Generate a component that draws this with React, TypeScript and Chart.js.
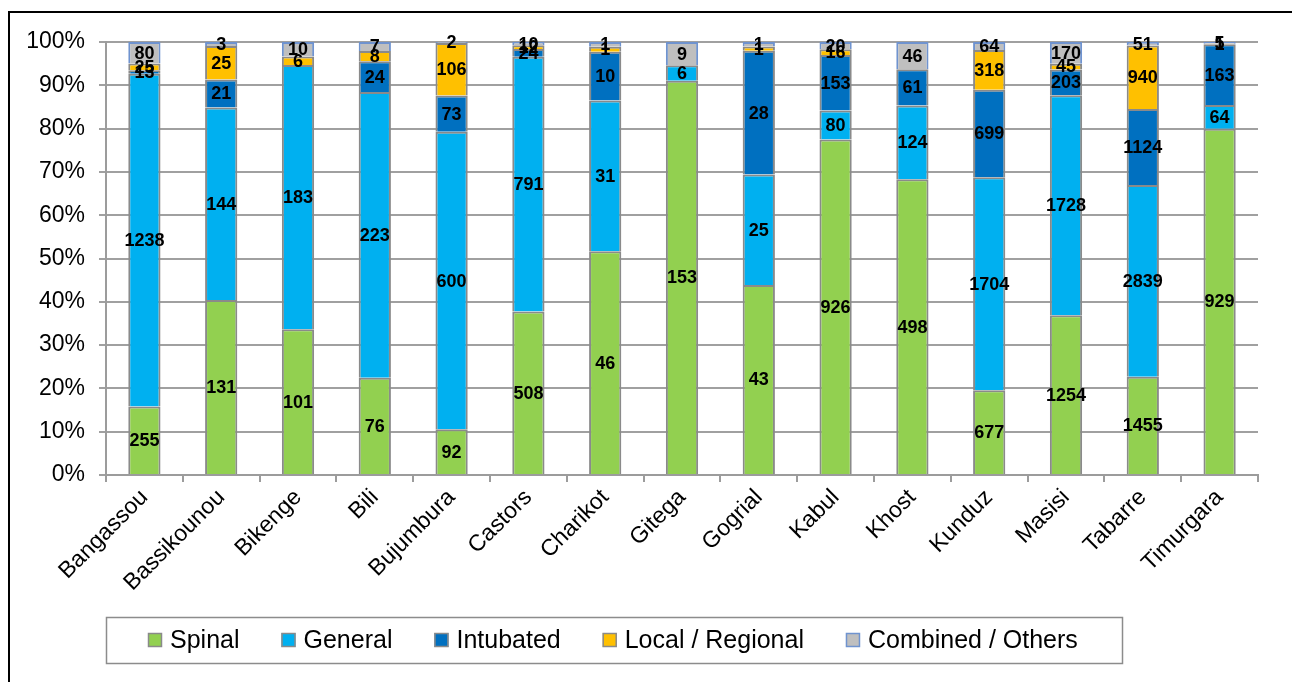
import React, { useEffect, useRef } from "react";
import { Chart, registerables } from "chart.js";

Chart.register(...registerables);

const FONT = "'Liberation Sans', Arial, sans-serif";

// Anaesthesia type per site (number of procedures)
const sites = [
  "Bangassou", "Bassikounou", "Bikenge", "Bili", "Bujumbura", "Castors", "Charikot",
  "Gitega", "Gogrial", "Kabul", "Khost", "Kunduz", "Masisi", "Tabarre", "Timurgara",
];
const spinal = [255, 131, 101, 76, 92, 508, 46, 153, 43, 926, 498, 677, 1254, 1455, 929];
const general = [1238, 144, 183, 223, 600, 791, 31, 6, 25, 80, 124, 1704, 1728, 2839, 64];
const intubated = [13, 21, 0, 24, 73, 24, 10, 0, 28, 153, 61, 699, 203, 1124, 163];
const localRegional = [25, 25, 6, 8, 106, 12, 1, 0, 1, 16, 0, 318, 45, 940, 1];
const combinedOthers = [80, 3, 10, 7, 2, 10, 1, 9, 1, 20, 46, 64, 170, 51, 5];

const seriesNames = ["Spinal", "General", "Intubated", "Local / Regional", "Combined / Others"];
const seriesValues = [spinal, general, intubated, localRegional, combinedOthers];
const seriesFill = ["#92D050", "#00B0F0", "#0070C0", "#FFC000", "#BFBFBF"];
const seriesEdge = ["#8A8A8A", "#8A8A8A", "#8A8A8A", "#8A8A8A", "#6F93CF"];

const yTicks = [0, 10, 20, 30, 40, 50, 60, 70, 80, 90, 100];

const totals = sites.map((_, i) => seriesValues.reduce((s, arr) => s + arr[i], 0));

// Count labels centred inside each stacked segment
const segmentLabels = {
  id: "segmentLabels",
  afterDatasetsDraw(chart: any) {
    const ctx = chart.ctx;
    ctx.save();
    ctx.font = `bold 18px ${FONT}`;
    ctx.fillStyle = "#000";
    ctx.textAlign = "center";
    ctx.textBaseline = "middle";
    chart.data.datasets.forEach((_: any, di: number) => {
      const meta = chart.getDatasetMeta(di);
      const raw = seriesValues[di];
      meta.data.forEach((bar: any, i: number) => {
        if (!raw[i]) return;
        const p = bar.getProps(["x", "y", "base"], true);
        ctx.fillText(String(raw[i]), p.x, (p.y + p.base) / 2 + 1);
      });
    });
    ctx.restore();
  },
};

// Outer frame and boxed legend
const frameAndLegend = {
  id: "frameAndLegend",
  afterDraw(chart: any) {
    const ctx = chart.ctx;
    ctx.save();
    ctx.strokeStyle = "#000";
    ctx.lineWidth = 2;
    ctx.strokeRect(9, 12, 1400, 800);

    ctx.strokeStyle = "#8C8C8C";
    ctx.lineWidth = 1.5;
    ctx.strokeRect(106.5, 617.5, 1016, 46);

    ctx.font = `25px ${FONT}`;
    ctx.textBaseline = "middle";
    ctx.textAlign = "left";
    let x = 148;
    seriesNames.forEach((name, i) => {
      ctx.fillStyle = seriesFill[i];
      ctx.fillRect(x, 633, 14, 14);
      ctx.strokeStyle = seriesEdge[i];
      ctx.lineWidth = 1.5;
      ctx.strokeRect(x + 0.5, 633.5, 13, 13);
      ctx.fillStyle = "#000";
      ctx.fillText(name, x + 22, 641);
      x += 22 + ctx.measureText(name).width + 42;
    });
    ctx.restore();
  },
};

export default function App() {
  const canvasRef = useRef<HTMLCanvasElement | null>(null);

  useEffect(() => {
    if (!canvasRef.current) return;
    const chart = new Chart(canvasRef.current, {
      type: "bar",
      data: {
        labels: sites,
        datasets: seriesNames.map((name, di) => ({
          label: name,
          data: seriesValues[di].map((v, i) => (v / totals[i]) * 100),
          backgroundColor: seriesFill[di],
          borderColor: seriesEdge[di],
          borderWidth: 2,
          barPercentage: 0.42,
          categoryPercentage: 1,
        })),
      },
      options: {
        animation: false,
        responsive: false,
        devicePixelRatio: 1,
        layout: { padding: { top: 42, right: 34, bottom: 0, left: 0 } },
        plugins: {
          legend: { display: false },
          tooltip: { enabled: false },
        },
        scales: {
          x: {
            stacked: true,
            ticks: {
              autoSkip: false,
              minRotation: 45,
              maxRotation: 45,
              color: "#000",
              padding: 2,
              font: { family: FONT, size: 23 },
            },
            grid: {
              offset: true,
              drawOnChartArea: false,
              drawTicks: true,
              tickLength: 7,
              color: "#9C9C9C",
              lineWidth: 2,
            },
            border: { color: "#9C9C9C", width: 2 },
            afterFit: (s: any) => {
              s.height = 207;
            },
          },
          y: {
            stacked: true,
            min: 0,
            max: 100,
            afterBuildTicks: (s: any) => {
              s.ticks = yTicks.map((v) => ({ value: v }));
            },
            ticks: {
              color: "#000",
              padding: 14,
              font: { family: FONT, size: 23 },
              callback: (v: any) => `${v}%`,
            },
            grid: {
              color: "#A0A0A0",
              lineWidth: 2,
              tickLength: 7,
              drawTicks: true,
            },
            border: { color: "#9C9C9C", width: 2 },
            afterFit: (s: any) => {
              s.width = 106;
            },
          },
        },
      },
      plugins: [segmentLabels, frameAndLegend],
    });
    return () => chart.destroy();
  }, []);

  return (
    <div
      style={{
        position: "fixed",
        left: 0,
        top: 0,
        width: 1292,
        height: 682,
        background: "#fff",
      }}
    >
      <canvas ref={canvasRef} width={1292} height={682} style={{ display: "block" }} />
    </div>
  );
}
